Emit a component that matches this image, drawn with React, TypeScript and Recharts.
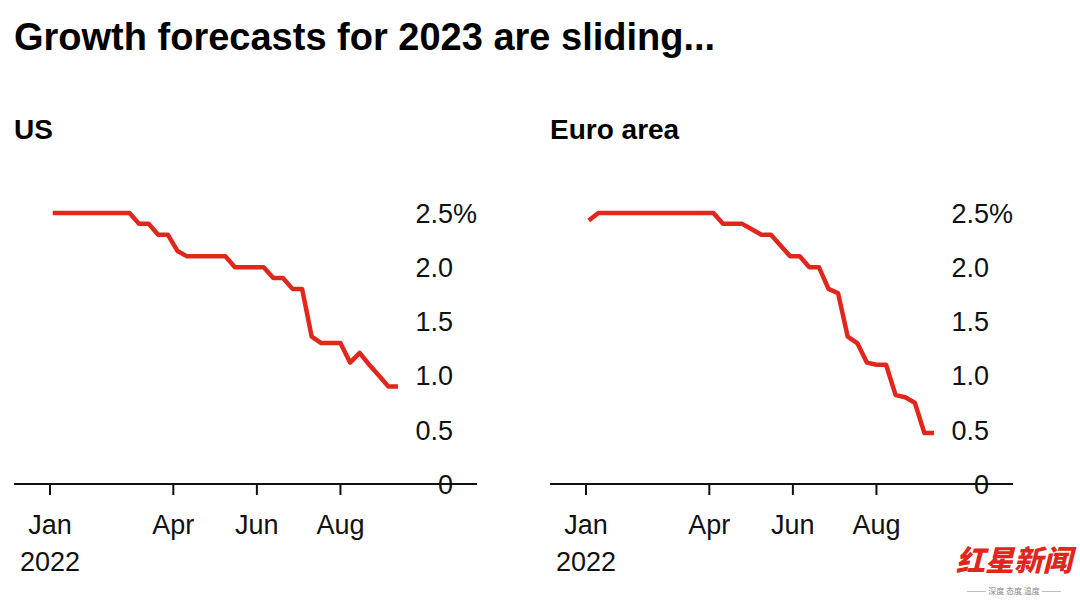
import React from 'react';
import { LineChart, Line, XAxis, YAxis } from 'recharts';

// weekly forecast dates (2022)
const weekDates = [
  '2022-01-03', '2022-01-10', '2022-01-17', '2022-01-24', '2022-01-31',
  '2022-02-07', '2022-02-14', '2022-02-21', '2022-02-28',
  '2022-03-07', '2022-03-14', '2022-03-21', '2022-03-28',
  '2022-04-04', '2022-04-11', '2022-04-18', '2022-04-25',
  '2022-05-02', '2022-05-09', '2022-05-16', '2022-05-23', '2022-05-30',
  '2022-06-06', '2022-06-13', '2022-06-20', '2022-06-27',
  '2022-07-04', '2022-07-11', '2022-07-18', '2022-07-25',
  '2022-08-01', '2022-08-08', '2022-08-15', '2022-08-22', '2022-08-29',
  '2022-09-05', '2022-09-12',
];

const usForecast = [
  2.5, 2.5, 2.5, 2.5, 2.5, 2.5, 2.5, 2.5, 2.5,
  2.4, 2.4, 2.3, 2.3, 2.15, 2.1, 2.1, 2.1, 2.1, 2.1,
  2.0, 2.0, 2.0, 2.0, 1.9, 1.9, 1.8, 1.8,
  1.36, 1.3, 1.3, 1.3, 1.12, 1.21, 1.1, 1.0, 0.9, 0.9,
];

const euroForecast = [
  2.43, 2.5, 2.5, 2.5, 2.5, 2.5, 2.5, 2.5, 2.5, 2.5, 2.5, 2.5, 2.5, 2.5,
  2.4, 2.4, 2.4, 2.35, 2.3, 2.3, 2.2, 2.1, 2.1, 2.0, 2.0,
  1.8, 1.76, 1.36, 1.3, 1.12, 1.1, 1.1, 0.82, 0.8, 0.75, 0.47, 0.47,
];

const monthTicks = ['2022-01-01', '2022-04-01', '2022-06-01', '2022-08-01'];
const monthLabels = ['Jan', 'Apr', 'Jun', 'Aug'];
const yTicks = [0, 0.5, 1, 1.5, 2, 2.5];

const FONT = '"Liberation Sans", Arial, sans-serif';
const RED = '#e1261c';

const dayOfYear = (iso: string) => (Date.parse(iso) - Date.parse('2022-01-01')) / 86400000;
const tickDays = monthTicks.map(dayOfYear);

const MonthTick = (props: any) => {
  const { x, payload } = props;
  const idx = tickDays.indexOf(payload.value);
  return (
    <g>
      <text x={x} y={534} textAnchor="middle" fontSize={27} fontFamily={FONT} fill="#111">
        {monthLabels[idx]}
      </text>
      {idx === 0 && (
        <text x={x} y={571} textAnchor="middle" fontSize={27} fontFamily={FONT} fill="#111">
          2022
        </text>
      )}
    </g>
  );
};

const ValueTick = (props: any) => {
  const { y, payload } = props;
  const v = Number(payload.value);
  const label = v === 0 ? '0' : v.toFixed(1);
  return (
    <g>
      <text x={453} y={y} dy="0.36em" textAnchor="end" fontSize={27} fontFamily={FONT} fill="#111">
        {label}
      </text>
      {v === 2.5 && (
        <text x={453} y={y} dy="0.36em" textAnchor="start" fontSize={27} fontFamily={FONT} fill="#111">
          %
        </text>
      )}
    </g>
  );
};

const Panel = ({ title, values, left }: { title: string; values: number[]; left: number }) => {
  const data = weekDates.map((d, i) => ({ day: dayOfYear(d), value: values[i] }));
  return (
    <div style={{ position: 'absolute', left, top: 0, width: 536, height: 603 }}>
      <div
        style={{
          position: 'absolute', left: 14, top: 116, fontSize: 28, lineHeight: 1,
          fontWeight: 700, fontFamily: FONT, color: '#000', whiteSpace: 'nowrap',
        }}
      >
        {title}
      </div>
      <LineChart width={536} height={603} data={data} margin={{ top: 213, right: 0, bottom: 0, left: 14 }}>
        <XAxis
          dataKey="day"
          type="number"
          domain={[0, 254]}
          ticks={tickDays}
          interval={0}
          padding={{ left: 36, right: 79 }}
          height={119}
          tickSize={11}
          axisLine={{ stroke: '#111', strokeWidth: 2 }}
          tickLine={{ stroke: '#111', strokeWidth: 2 }}
          tick={(p: any) => <MonthTick {...p} />}
        />
        <YAxis
          orientation="right"
          width={59}
          type="number"
          domain={[0, 2.5]}
          ticks={yTicks}
          interval={0}
          axisLine={false}
          tickLine={false}
          tick={(p: any) => <ValueTick {...p} />}
        />
        <Line
          dataKey="value"
          type="linear"
          stroke={RED}
          strokeWidth={4.5}
          strokeLinejoin="round"
          dot={false}
          isAnimationActive={false}
        />
      </LineChart>
    </div>
  );
};

export default function App() {
  return (
    <div
      style={{
        position: 'absolute', left: 0, top: 0, width: 1080, height: 603,
        background: '#fff', overflow: 'hidden', fontFamily: FONT,
      }}
    >
      <div
        style={{
          position: 'absolute', left: 14, top: 18, fontSize: 38, lineHeight: 1,
          fontWeight: 700, color: '#000', whiteSpace: 'nowrap',
        }}
      >
        Growth forecasts for 2023 are sliding...
      </div>
      <Panel title="US" values={usForecast} left={0} />
      <Panel title="Euro area" values={euroForecast} left={536} />
      <div style={{ position: 'absolute', left: 955, top: 544, width: 118, textAlign: 'center' }}>
        <div
          style={{
            fontFamily: '"Noto Sans CJK SC", sans-serif', fontWeight: 900, fontSize: 29,
            lineHeight: 1, color: RED, fontStyle: 'italic',
          }}
        >
          红星新闻
        </div>
        <div
          style={{
            fontFamily: '"Noto Sans CJK SC", sans-serif', fontSize: 8, lineHeight: 1,
            color: '#888', marginTop: 14, whiteSpace: 'nowrap',
          }}
        >
          ——— 深度 态度 温度 ———
        </div>
      </div>
    </div>
  );
}
